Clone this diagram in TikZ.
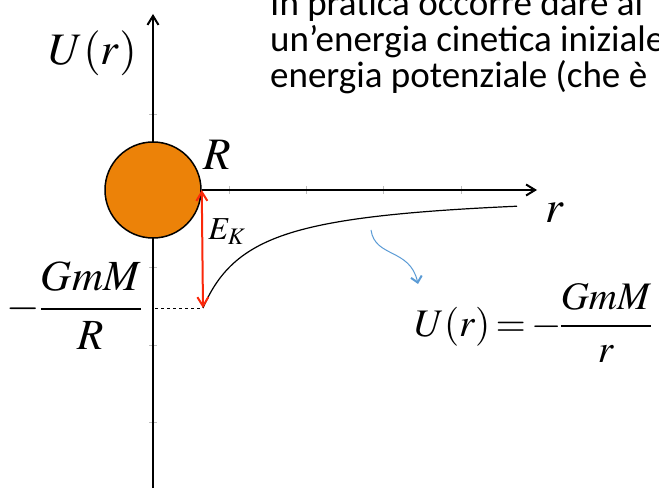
\documentclass[tikz,border=0pt]{standalone}
\usepackage{amsmath}
\usepackage{mathptmx}
\usepackage[no-math]{fontspec}
\newfontfamily\slidefont{Carlito}
\usetikzlibrary{arrows.meta, positioning}
\definecolor{planet}{RGB}{236,130,8}
\definecolor{ekred}{RGB}{250,40,10}
\definecolor{hintblue}{RGB}{91,155,213}

\begin{document}
\begin{tikzpicture}[x=1pt, y=1pt, >={Straight Barb[length=9pt,width=11pt]},
  axis/.style={line width=2pt, ->},
  tick/.style={gray!50, line width=0.8pt},
  lbl/.style={inner sep=0pt, font=\fontsize{45}{54}\selectfont},
  topline/.style={inner sep=0pt, anchor=base west, font=\slidefont\fontsize{37}{43}\selectfont}]

\useasboundingbox (0,0) rectangle (659,488);

% slide text, cut by the frame
\begin{scope}
\clip (0,0) rectangle (659,488);
\node[topline] (line1) at (270,472) {In pratica occorre dare al};
\node[topline] (line2) at (270,436) {un’energia cinetica iniziale};
\node[topline] (line3) at (270,400) {energia potenziale (che è};
\end{scope}

\coordinate (O) at (153,298);
\coordinate (ytop) at (153,474);
\coordinate (ybot) at (153,0);
\coordinate (xend) at (537,298);

% ticks
\foreach \ty in {66,143,221,374}
  \draw[tick] (149,\ty) -- (157,\ty);
\foreach \tx in {229,306,383,461}
  \draw[tick] (\tx,294) -- (\tx,302);

\draw[axis] (ybot) -- (ytop);
\node[circle, draw, line width=1.5pt, fill=planet, inner sep=0pt, minimum size=96pt] (earth) at (O) {};
\draw[axis] (earth.east) -- (xend);

% potential
\draw[line width=1.2pt] plot[domain=50:364, samples=90, smooth] ({153+\x},{298-5900/\x});

\coordinate (surf) at (203,180);
\coordinate (yaxmin) at (155,180);
\draw[dashed, line width=0.8pt] (yaxmin) -- (surf);
\draw[<->, ekred, line width=2pt] (earth.east) -- (surf);

% labels
\node[lbl] (Ulab) at (93,435) {$U(r)$};
\node[lbl] (Rlab) at (217,333) {$R$};
\node[lbl, font=\fontsize{32}{38}\selectfont] (EK) at (227,256) {$E_K$};
\node[lbl] (rlab) at (555,275) {$r$};
\node[lbl, anchor=base east, font=\fontsize{43}{52}\selectfont] (Umin) at (142,168) {$-\dfrac{GmM}{R}$};
\node[lbl, anchor=base west, font=\fontsize{39}{47}\selectfont] (Ueq) at (414,152)
  {$\thickmuskip=2.5mu U(r)=-\mkern-1mu\dfrac{GmM}{r}$};

\coordinate (hintA) at (371,258);
\coordinate (hintB) at (418,204);
\draw[hintblue, line width=1pt, -{Straight Barb[length=6pt,width=11pt,line width=2pt]}] (hintA) .. controls (375,230) and (410,240) .. (hintB);

\end{tikzpicture}
\end{document}
